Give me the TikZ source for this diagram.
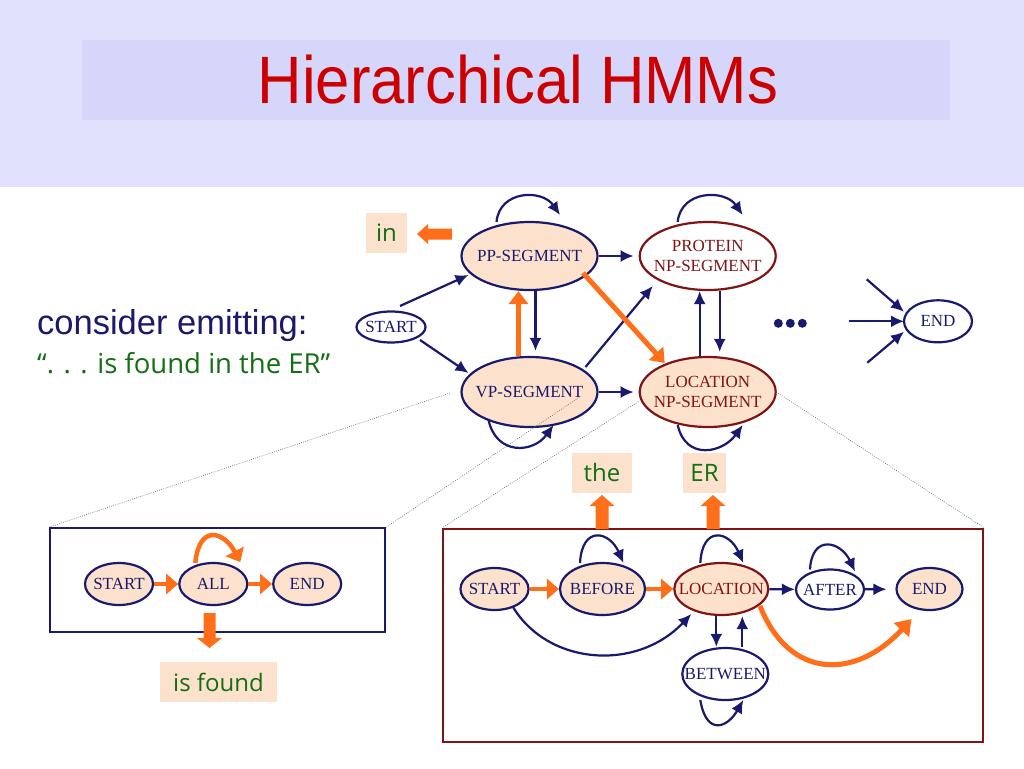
\documentclass[tikz,border=0pt]{standalone}
\usepackage{fontspec}
\setmainfont{Liberation Serif}
\newfontfamily\arialf{Liberation Sans}
\newfontfamily\comicf{Open Sans}
\usetikzlibrary{arrows.meta,shapes.geometric}
\definecolor{navy}{RGB}{25,25,110}
\definecolor{dred}{RGB}{128,20,20}
\definecolor{peach}{RGB}{252,226,204}
\definecolor{org}{RGB}{255,110,25}
\definecolor{grn}{RGB}{20,110,20}
\definecolor{band}{RGB}{225,225,253}
\definecolor{tbox}{RGB}{214,214,250}
\definecolor{tred}{RGB}{204,0,0}
\begin{document}
\begin{tikzpicture}[x=1pt,y=-1pt,
  st/.style={ellipse, draw=navy, line width=2.2pt, fill=white, inner xsep=-25pt, inner ysep=0pt,
             text=navy, font=\fontsize{17}{20}\selectfont, align=center},
  pst/.style={st, fill=peach},
  rst/.style={st, draw=dred, text=dred},
  nav/.style={draw=navy, line width=2.2pt, -{Latex[length=13pt,width=12pt]}},
  ora/.style={draw=org, line width=5pt, -{Triangle[length=13pt,width=19pt]}},
  orb/.style={draw=org, line width=4.5pt, -{Triangle[length=12pt,width=20pt]}},
  orc/.style={draw=org, line width=5pt, -{Triangle[length=15pt,width=20pt]}},
  lbl/.style={fill=peach, text=grn, font=\comicf\fontsize{24}{28}\selectfont, minimum height=40pt, inner sep=0pt},
  dotl/.style={draw=black!60, line width=0.6pt, dash pattern=on 0.8pt off 1.4pt},
  boxst/.style={line width=2.2pt, fill=white, inner sep=0pt},
]
\useasboundingbox (0,0) rectangle (1024,768);
\fill[white] (0,0) rectangle (1024,768);
\fill[band] (0,0) rectangle (1024,187);
\fill[tbox] (82,40) rectangle (950,120);
\node[text=tred, font=\arialf\fontsize{67}{70}\selectfont, inner sep=0pt] (title) at (518,80) {\scalebox{0.92}[1]{Hierarchical HMMs}};

% left text
\node[anchor=base west, text=navy, font=\arialf\fontsize{34.5}{38}\selectfont, inner sep=0pt] (cons) at (37,334) {consider emitting:};
\node[anchor=base west, text=grn, font=\comicf\fontsize{27.5}{30}\selectfont, inner sep=0pt] (quote) at (37,373) {“. . . is found in the ER”};

% boxes
\node[boxst, draw=navy, minimum width=335pt, minimum height=103.4pt] (boxl) at (217.5,580) {};
\node[boxst, draw=dred, minimum width=540pt, minimum height=213pt] (boxr) at (713,635.5) {};

% top graph nodes
\node[st, minimum width=69pt, minimum height=31pt] (start) at (391,327) {START};
\node[pst, minimum width=136pt, minimum height=68pt] (pp) at (529.5,256) {PP-SEGMENT};
\node[pst, minimum width=136pt, minimum height=70pt] (vp) at (529.5,392) {VP-SEGMENT};
\node[rst, minimum width=136pt, minimum height=68pt] (prot) at (707.7,256) {PROTEIN\\NP-SEGMENT};
\node[rst, fill=peach, minimum width=136pt, minimum height=70pt] (loc) at (707.7,392) {LOCATION\\NP-SEGMENT};
\node[st, minimum width=68pt, minimum height=42pt] (end) at (938,321.3) {END};

% dotted zoom lines
\draw[dotl] ([shift={(-79.5,1)}]vp.center) -- (boxl.north west);
\draw[dotl] ([shift={(50.5,4.7)}]vp.center) -- (boxl.north east);
\draw[dotl] ([shift={(-69.4,9.7)}]loc.center) -- (boxr.north west);
\draw[dotl] ([shift={(70.6,1.3)}]loc.center) -- (boxr.north east);

% top graph edges
\draw[nav] ([shift={(9,-21)}]start.center) -- ([shift={(-61,19)}]pp.center);
\draw[nav] ([shift={(29,13)}]start.center) -- ([shift={(-61,-19)}]vp.center);
\draw[nav, shorten >=5pt] (pp.east) -- (prot.west);
\draw[nav, shorten >=5pt] (vp.east) -- (loc.west);
\draw[nav, shorten >=5pt] ([xshift=6]pp.south) -- ([xshift=6]vp.north);
\draw[ora] ([xshift=-11]vp.north) -- ([xshift=-11]pp.south);
\draw[nav] ([shift={(56,-25)}]vp.center) -- ([shift={(-55,30)}]prot.center);
\draw[ora] ([shift={(53.5,17)}]pp.center) -- ([shift={(-43,-29)}]loc.center);
\draw[nav] ([xshift=-8]loc.north) -- ([xshift=-8]prot.south);
\draw[nav, shorten >=4pt] ([xshift=12]prot.south) -- ([xshift=12]loc.north);
% self loops
\draw[nav] ([shift={(-33,-34)}]pp.center) .. controls +(3,-32) and +(-18,-26) .. ([shift={(30.5,-41)}]pp.center);
\draw[nav] ([shift={(-30,-34)}]prot.center) .. controls +(3,-32) and +(-18,-26) .. ([shift={(35,-41)}]prot.center);
\draw[nav] ([shift={(-41,28)}]vp.center) .. controls +(8,36) and +(-20,28) .. ([shift={(24,33)}]vp.center);
\draw[nav] ([shift={(-30,33)}]loc.center) .. controls +(8,36) and +(-20,28) .. ([shift={(35,33)}]loc.center);
% dots and END
\fill[navy] (778.3,323.3) circle (4.5pt);
\fill[navy] (790.3,323.3) circle (4.5pt);
\fill[navy] (802.3,323.3) circle (4.5pt);
\coordinate (e1) at (866.7,279.3);
\coordinate (e2) at (849,321.3);
\coordinate (e3) at (867.3,362.7);
\draw[nav] (e1) -- ([shift={(-34,-9.6)}]end.center);
\draw[nav] (e2) -- ([shift={(-34,0)}]end.center);
\draw[nav] (e3) -- ([shift={(-34,10.4)}]end.center);

% label "in"
\node[lbl, minimum width=41pt] (lin) at (386.5,233) {in};
\fill[org] (417,234) -- (428,224) -- (428,228.5) -- (452,228.5) -- (452,239.5) -- (428,239.5) -- (428,244) -- cycle;

% left box
\node[pst, minimum width=68pt, minimum height=42pt] (ls) at (119,584) {START};
\node[pst, minimum width=68pt, minimum height=42pt] (la) at (213.3,584) {ALL};
\node[pst, minimum width=68pt, minimum height=42pt] (le) at (307.2,584) {END};
\draw[orb] (ls) -- (la);
\draw[orb] (la) -- (le);
\draw[orb] ([shift={(-18,-21)}]la.center) .. controls +(4,-40) and +(-16,-30) .. ([shift={(27,-22)}]la.center);
\fill[org] (209.5,648) -- (222,638) -- (215.5,638) -- (215.5,613) -- (203.5,613) -- (203.5,638) -- (197,638) -- cycle;
\node[lbl, minimum width=117pt] (lfound) at (218.5,682) {is found};

% right box
\node[pst, minimum width=68pt, minimum height=42pt] (rs) at (494.5,589) {START};
\node[pst, minimum width=85pt, minimum height=52pt] (rb) at (602.5,589) {BEFORE};
\node[rst, fill=peach, minimum width=94pt, minimum height=52pt] (rl) at (721.3,589) {LOCATION};
\node[st, minimum width=68pt, minimum height=40pt] (ra) at (830,589.5) {AFTER};
\node[pst, minimum width=66pt, minimum height=42pt] (re) at (929.5,589) {END};
\node[st, minimum width=86pt, minimum height=52pt] (rw) at (725.3,674) {BETWEEN};
\draw[orb] (rs) -- (rb);
\draw[orb] (rb) -- (rl);
\draw[nav] (rl) -- (ra);
\draw[nav, shorten >=9pt] (ra) -- (re);
\draw[nav] ([xshift=-5]rl.south) -- ([xshift=-9]rw.north);
\draw[nav] ([xshift=17]rw.north) -- ([xshift=21]rl.south);
\draw[nav] ([shift={(18.5,18)}]rs.center) .. controls +(35,58) and +(-55,58) .. ([shift={(-30,25)}]rl.center);
\draw[orc] ([shift={(38.7,17)}]rl.center) .. controls +(30,75) and +(-55,60) .. ([shift={(-18,30)}]re.center);
\draw[nav] ([shift={(-22.5,-26)}]rb.center) .. controls +(2,-38) and +(-14,-32) .. ([shift={(21,-26)}]rb.center);
\draw[nav] ([shift={(-21,-26)}]rl.center) .. controls +(2,-38) and +(-14,-32) .. ([shift={(22,-26)}]rl.center);
\draw[nav] ([shift={(-20,-20)}]ra.center) .. controls +(2,-36) and +(-14,-30) .. ([shift={(25,-18)}]ra.center);
\draw[nav] ([shift={(-25,26)}]rw.center) .. controls +(6,36) and +(-16,28) .. ([shift={(18,26)}]rw.center);

% labels the / ER
\node[lbl, minimum width=60pt] (lthe) at (602,472.5) {the};
\node[lbl, minimum width=43pt] (ler) at (704.5,472.5) {ER};
\fill[org] (602,495) -- (614.5,506) -- (608.5,506) -- (608.5,529) -- (595.5,529) -- (595.5,506) -- (589.5,506) -- cycle;
\fill[org] (713,495) -- (725.5,506) -- (719.5,506) -- (719.5,529) -- (706.5,529) -- (706.5,506) -- (700.5,506) -- cycle;
\end{tikzpicture}
\end{document}
